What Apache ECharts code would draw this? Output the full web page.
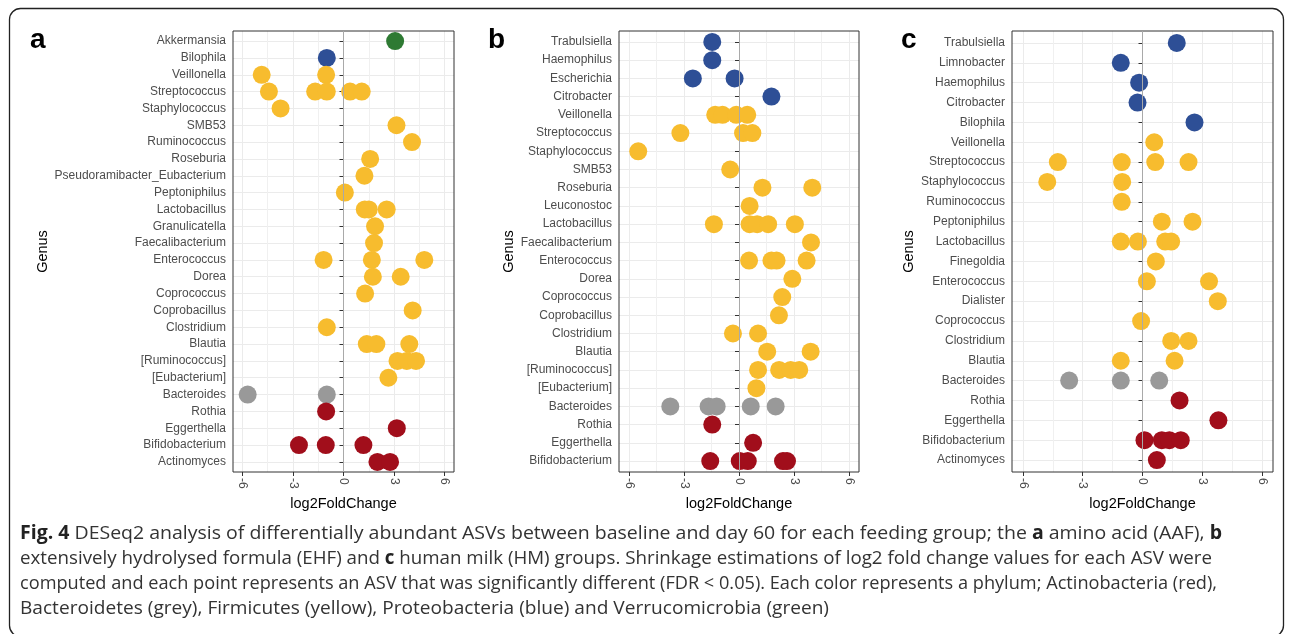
<!DOCTYPE html>
<html><head><meta charset="utf-8">
<script src="https://cdn.jsdelivr.net/npm/echarts@6/dist/echarts.min.js"></script>
<style>html,body{margin:0;padding:0;background:#fff}#c{width:1290px;height:634px}</style>
</head><body><div id="c"></div><script>
// ---------- tick labels ----------
const xTicks = [-6, -3, 0, 3, 6];
const xMinorTicks = [-4.5, -1.5, 1.5, 4.5];

// ---------- categories (top to bottom) ----------
const aGenus = ['Akkermansia','Bilophila','Veillonella','Streptococcus','Staphylococcus','SMB53','Ruminococcus','Roseburia','Pseudoramibacter_Eubacterium','Peptoniphilus','Lactobacillus','Granulicatella','Faecalibacterium','Enterococcus','Dorea','Coprococcus','Coprobacillus','Clostridium','Blautia','[Ruminococcus]','[Eubacterium]','Bacteroides','Rothia','Eggerthella','Bifidobacterium','Actinomyces'];
const bGenus = ['Trabulsiella','Haemophilus','Escherichia','Citrobacter','Veillonella','Streptococcus','Staphylococcus','SMB53','Roseburia','Leuconostoc','Lactobacillus','Faecalibacterium','Enterococcus','Dorea','Coprococcus','Coprobacillus','Clostridium','Blautia','[Ruminococcus]','[Eubacterium]','Bacteroides','Rothia','Eggerthella','Bifidobacterium'];
const cGenus = ['Trabulsiella','Limnobacter','Haemophilus','Citrobacter','Bilophila','Veillonella','Streptococcus','Staphylococcus','Ruminococcus','Peptoniphilus','Lactobacillus','Finegoldia','Enterococcus','Dialister','Coprococcus','Clostridium','Blautia','Bacteroides','Rothia','Eggerthella','Bifidobacterium','Actinomyces'];

// ---------- panel a (AAF) values: [genus, log2FoldChange] ----------
const aVerrucomicrobia = [['Akkermansia', 3.06]];
const aProteobacteria = [['Bilophila', -0.99]];
const aFirmicutes = [
  ['Veillonella', -4.85], ['Veillonella', -1.03],
  ['Streptococcus', -4.42], ['Streptococcus', -1.68], ['Streptococcus', -0.99], ['Streptococcus', 0.39], ['Streptococcus', 1.08],
  ['Staphylococcus', -3.73], ['SMB53', 3.14], ['Ruminococcus', 4.06], ['Roseburia', 1.58],
  ['Pseudoramibacter_Eubacterium', 1.24], ['Peptoniphilus', 0.08],
  ['Lactobacillus', 1.26], ['Lactobacillus', 1.50], ['Lactobacillus', 2.56],
  ['Granulicatella', 1.87], ['Faecalibacterium', 1.81],
  ['Enterococcus', -1.18], ['Enterococcus', 1.68], ['Enterococcus', 4.79],
  ['Dorea', 1.74], ['Dorea', 3.39], ['Coprococcus', 1.28], ['Coprobacillus', 4.10], ['Clostridium', -0.99],
  ['Blautia', 1.38], ['Blautia', 1.95], ['Blautia', 3.90],
  ['[Ruminococcus]', 3.20], ['[Ruminococcus]', 3.75], ['[Ruminococcus]', 4.30],
  ['[Eubacterium]', 2.66]
];
const aBacteroidetes = [['Bacteroides', -5.68], ['Bacteroides', -0.99]];
const aActinobacteria = [
  ['Rothia', -1.03], ['Eggerthella', 3.16],
  ['Bifidobacterium', -2.64], ['Bifidobacterium', -1.05], ['Bifidobacterium', 1.18],
  ['Actinomyces', 2.01], ['Actinomyces', 2.76]
];

// ---------- panel b (EHF) ----------
const bProteobacteria = [['Trabulsiella', -1.46], ['Haemophilus', -1.46], ['Escherichia', -2.52], ['Escherichia', -0.24], ['Citrobacter', 1.77]];
const bFirmicutes = [
  ['Veillonella', -1.30], ['Veillonella', -0.90], ['Veillonella', -0.15], ['Veillonella', 0.45],
  ['Streptococcus', -3.20], ['Streptococcus', 0.22], ['Streptococcus', 0.73],
  ['Staphylococcus', -5.50], ['SMB53', -0.48], ['Roseburia', 1.28], ['Roseburia', 4.00], ['Leuconostoc', 0.58],
  ['Lactobacillus', -1.37], ['Lactobacillus', 0.58], ['Lactobacillus', 0.99], ['Lactobacillus', 1.59], ['Lactobacillus', 3.05],
  ['Faecalibacterium', 3.93],
  ['Enterococcus', 0.55], ['Enterococcus', 1.77], ['Enterococcus', 2.05], ['Enterococcus', 3.69],
  ['Dorea', 2.91], ['Coprococcus', 2.36], ['Coprobacillus', 2.18],
  ['Clostridium', -0.33], ['Clostridium', 1.04], ['Blautia', 1.54], ['Blautia', 3.91],
  ['[Ruminococcus]', 1.04], ['[Ruminococcus]', 2.19], ['[Ruminococcus]', 2.82], ['[Ruminococcus]', 3.29],
  ['[Eubacterium]', 0.95]
];
const bBacteroidetes = [['Bacteroides', -3.75], ['Bacteroides', -1.66], ['Bacteroides', -1.22], ['Bacteroides', 0.64], ['Bacteroides', 2.00]];
const bActinobacteria = [
  ['Rothia', -1.46], ['Eggerthella', 0.77],
  ['Bifidobacterium', -1.57], ['Bifidobacterium', 0.04], ['Bifidobacterium', 0.48], ['Bifidobacterium', 2.40], ['Bifidobacterium', 2.62]
];

// ---------- panel c (HM) ----------
const cProteobacteria = [['Trabulsiella', 1.72], ['Limnobacter', -1.09], ['Haemophilus', -0.17], ['Citrobacter', -0.25], ['Bilophila', 2.61]];
const cFirmicutes = [
  ['Veillonella', 0.59],
  ['Streptococcus', -4.25], ['Streptococcus', -1.04], ['Streptococcus', 0.64], ['Streptococcus', 2.31],
  ['Staphylococcus', -4.78], ['Staphylococcus', -1.02], ['Ruminococcus', -1.04],
  ['Peptoniphilus', 0.97], ['Peptoniphilus', 2.51],
  ['Lactobacillus', -1.09], ['Lactobacillus', -0.23], ['Lactobacillus', 1.14], ['Lactobacillus', 1.44],
  ['Finegoldia', 0.67], ['Enterococcus', 0.22], ['Enterococcus', 3.34], ['Dialister', 3.78], ['Coprococcus', -0.07],
  ['Clostridium', 1.44], ['Clostridium', 2.31], ['Blautia', -1.09], ['Blautia', 1.61]
];
const cBacteroidetes = [['Bacteroides', -3.68], ['Bacteroides', -1.09], ['Bacteroides', 0.84]];
const cActinobacteria = [
  ['Rothia', 1.86], ['Eggerthella', 3.81],
  ['Bifidobacterium', 0.10], ['Bifidobacterium', 0.97], ['Bifidobacterium', 1.35], ['Bifidobacterium', 1.92],
  ['Actinomyces', 0.72]
];

// ---------- caption text ----------
const captionLines = [
  '{b|Fig. 4} DESeq2 analysis of differentially abundant ASVs between baseline and day 60 for each feeding group; the {b|a} amino acid (AAF), {b|b}',
  'extensively hydrolysed formula (EHF) and {b|c} human milk (HM) groups. Shrinkage estimations of log2 fold change values for each ASV were',
  'computed and each point represents an ASV that was significantly different (FDR < 0.05). Each color represents a phylum; Actinobacteria (red),',
  'Bacteroidetes (grey), Firmicutes (yellow), Proteobacteria (blue) and Verrucomicrobia (green)'
];

// ---------- styling ----------
const COL = { Actinobacteria: '#A10E1B', Bacteroidetes: '#999999', Firmicutes: '#F7BC2E', Proteobacteria: '#2E4F96', Verrucomicrobia: '#2E7A33' };
const FONT = "'Liberation Sans', Arial, sans-serif";
const frames = [
  { left: 233, top: 31, width: 221, height: 441 },
  { left: 619, top: 31, width: 240, height: 441 },
  { left: 1012, top: 31, width: 261, height: 441 }
];
const nameGaps = [182, 94, 96];
const XMIN = -6.55, XMAX = 6.55;

const panels = [
  { genus: aGenus, groups: [['Verrucomicrobia', aVerrucomicrobia], ['Proteobacteria', aProteobacteria], ['Firmicutes', aFirmicutes], ['Bacteroidetes', aBacteroidetes], ['Actinobacteria', aActinobacteria]] },
  { genus: bGenus, groups: [['Proteobacteria', bProteobacteria], ['Firmicutes', bFirmicutes], ['Bacteroidetes', bBacteroidetes], ['Actinobacteria', bActinobacteria]] },
  { genus: cGenus, groups: [['Proteobacteria', cProteobacteria], ['Firmicutes', cFirmicutes], ['Bacteroidetes', cBacteroidetes], ['Actinobacteria', cActinobacteria]] }
];
const N = panels.length;

const grids = [], xAxes = [], yAxes = [], series = [];
frames.forEach((f) => {
  grids.push(Object.assign({ show: true, borderColor: '#333', borderWidth: 1, backgroundColor: 'transparent', z: 4 }, f));
});
// inset grids for categories: ggplot pads discrete axes by 0.6 of a step
frames.forEach((f, i) => {
  const n = panels[i].genus.length;
  const step = f.height / (n + 0.2);
  const inset = 0.1 * step;
  grids.push({ show: false, left: f.left, width: f.width, top: f.top + inset, height: f.height - 2 * inset });
});

panels.forEach((p, i) => {
  xAxes.push({
    type: 'value', gridIndex: i, min: XMIN, max: XMAX,
    name: 'log2FoldChange', nameLocation: 'middle', nameGap: 19,
    nameTextStyle: { fontFamily: FONT, fontSize: 14.5, color: '#000' },
    axisLine: { show: false },
    axisTick: { show: true, length: 4, customValues: xTicks, lineStyle: { color: '#333', width: 1 } },
    axisLabel: { customValues: xTicks, rotate: -90, margin: 6, fontFamily: FONT, fontSize: 12, color: '#4D4D4D' },
    splitLine: { show: true, lineStyle: { color: '#EBEBEB', width: 1 } }
  });
  yAxes.push({ type: 'value', gridIndex: i, min: 0, max: 1, show: false, splitLine: { show: false } });
  series.push({
    type: 'scatter', xAxisIndex: i, yAxisIndex: i, data: [], z: 1, silent: true,
    markLine: { silent: true, symbol: ['none', 'none'], label: { show: false },
      lineStyle: { color: '#A9A9A9', width: 1, type: 'solid' }, data: [{ xAxis: 0 }] }
  });
});
panels.forEach((p, i) => {
  const gi = N + i;
  xAxes.push({ type: 'value', gridIndex: gi, min: XMIN, max: XMAX, show: false, splitLine: { show: false } });
  yAxes.push({
    type: 'category', gridIndex: gi, data: p.genus, inverse: true,
    name: 'Genus', nameLocation: 'middle', nameGap: nameGaps[i], nameRotate: 90,
    nameTextStyle: { fontFamily: FONT, fontSize: 14.5, color: '#000' },
    axisLine: { show: false },
    axisTick: { show: true, length: 4, alignWithLabel: true, lineStyle: { color: '#333', width: 1 } },
    axisLabel: { interval: 0, margin: 7, fontFamily: FONT, fontSize: 12, color: '#4D4D4D' },
    splitLine: { show: true, alignWithLabel: true, lineStyle: { color: '#EBEBEB', width: 1 } }
  });
  p.groups.forEach(([phylum, arr]) => {
    series.push({
      type: 'scatter', name: phylum, xAxisIndex: gi, yAxisIndex: gi, z: 3,
      symbol: 'circle', symbolSize: 18,
      itemStyle: { color: COL[phylum], opacity: 1 },
      data: arr.map(([g, v]) => [v, g])
    });
  });
});
panels.forEach((p, i) => {
  xAxes.push({
    type: 'value', gridIndex: i, min: XMIN, max: XMAX, position: 'bottom',
    axisLine: { show: false }, axisLabel: { show: false },
    axisTick: { show: false, customValues: xMinorTicks },
    splitLine: { show: true, lineStyle: { color: '#F0F0F0', width: 1 } }
  });
});

// caption layout: fit each line to the width it occupies in the figure
const CAP_SIZE = 19;
const CAP_FONT = "'Open Sans', sans-serif";
const captionWidths = [1202, 1192, 1197, 809];
const mctx = document.createElement('canvas').getContext('2d');
function measureRich(line) {
  let w = 0, last = 0, m;
  const re = /\{b\|([^}]*)\}/g;
  while ((m = re.exec(line))) {
    mctx.font = CAP_SIZE + 'px ' + CAP_FONT; w += mctx.measureText(line.slice(last, m.index)).width;
    mctx.font = 'bold ' + CAP_SIZE + 'px ' + CAP_FONT; w += mctx.measureText(m[1]).width;
    last = re.lastIndex;
  }
  mctx.font = CAP_SIZE + 'px ' + CAP_FONT; w += mctx.measureText(line.slice(last)).width;
  return w;
}

const letters = [['a', 30], ['b', 488], ['c', 901]];
const graphic = [
  { type: 'rect', silent: true, shape: { x: 9.5, y: 8.5, width: 1274, height: 628, r: 11 },
    style: { fill: 'none', stroke: '#222', lineWidth: 1.3 } }
];
letters.forEach(([t, x]) => graphic.push({ type: 'text', left: x, top: 26,
  style: { text: t, font: "bold 28px 'Liberation Sans', Arial, sans-serif", fill: '#000' } }));
captionLines.forEach((t, k) => {
  const s = captionWidths[k] / measureRich(t);
  graphic.push({ type: 'text', x: 20, y: 534 + k * 25, scaleX: s, scaleY: 1,
    style: { text: t, fontFamily: CAP_FONT, fontSize: CAP_SIZE, fill: '#333', verticalAlign: 'middle', align: 'left',
      rich: { b: { fontFamily: CAP_FONT, fontSize: CAP_SIZE, fontWeight: 'bold', fill: '#222' } } } });
});

const chart = echarts.init(document.getElementById('c'), null, { renderer: 'canvas' });
chart.setOption({
  animation: false,
  backgroundColor: '#fff',
  grid: grids,
  xAxis: xAxes,
  yAxis: yAxes,
  series: series,
  graphic: graphic
});
</script></body></html>
